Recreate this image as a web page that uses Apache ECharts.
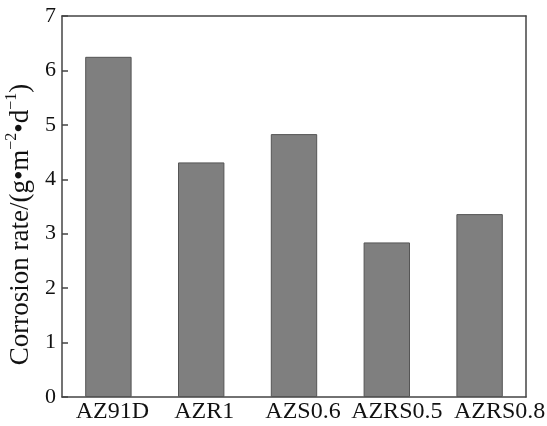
<!DOCTYPE html>
<html>
<head>
<meta charset="utf-8">
<script src="https://cdn.jsdelivr.net/npm/echarts@6/dist/echarts.min.js"></script>
<style>html,body{margin:0;padding:0;background:#fff}#c{width:547px;height:426px}</style>
</head>
<body>
<div id="c"></div>
<script>
var categories = ['AZ91D', 'AZR1', 'AZS0.6', 'AZRS0.5', 'AZRS0.8'];
var values = [6.25, 4.31, 4.83, 2.84, 3.36];
var yTicks = [0, 1, 2, 3, 4, 5, 6, 7];

var font = 'Liberation Serif';
var labelShift = [4, 3, 9, 10, 20];
var labelRich = {};
labelShift.forEach(function (d, i) {
  labelRich['l' + i] = { fontFamily: font, fontSize: 24, color: '#111', padding: [0, 0, 0, 2 * d] };
});

var chart = echarts.init(document.getElementById('c'));
chart.setOption({
  animation: false,
  backgroundColor: '#fff',
  grid: { left: 62, right: 21, top: 16, bottom: 29, containLabel: false, outerBoundsMode: 'none' },
  xAxis: [{
    type: 'category', data: categories, position: 'bottom',
    axisLine: { lineStyle: { color: '#444', width: 1.5 } },
    axisTick: { show: false },
    axisLabel: {
      interval: 0, margin: 3,
      formatter: function (v, i) { return '{l' + i + '|' + v + '}'; },
      rich: labelRich
    }
  }, {
    type: 'category', data: categories, position: 'top',
    axisLine: { show: true, onZero: false, lineStyle: { color: '#444', width: 1.5 } },
    axisTick: { show: false }, axisLabel: { show: false }
  }],
  yAxis: [{
    type: 'value', min: yTicks[0], max: yTicks[yTicks.length - 1], interval: 1,
    axisLine: { show: true, onZero: false, lineStyle: { color: '#444', width: 1.5 } },
    axisTick: { show: true, inside: true, length: 6, lineStyle: { color: '#444', width: 1.5 } },
    splitLine: { show: false },
    axisLabel: { fontFamily: font, fontSize: 22, color: '#111', margin: 6 },
    name: '{a|Corrosion rate/(g•m}{s|−2}{a|•d}{s|−1}{a|)}',
    nameLocation: 'middle', nameGap: 26, nameRotate: 90,
    nameTextStyle: {
      padding: [0, 36, 0, 0],
      rich: {
        a: { fontFamily: font, fontSize: 27, color: '#111', lineHeight: 30, verticalAlign: 'bottom' },
        s: { fontFamily: font, fontSize: 16, color: '#111', lineHeight: 30, verticalAlign: 'top' }
      }
    }
  }, {
    type: 'value', min: yTicks[0], max: yTicks[yTicks.length - 1], interval: 1, position: 'right',
    axisLine: { show: true, onZero: false, lineStyle: { color: '#444', width: 1.5 } },
    axisTick: { show: false }, axisLabel: { show: false }, splitLine: { show: false }
  }],
  series: [{
    type: 'bar', data: values, barWidth: '50%',
    itemStyle: { color: '#7f7f7f', borderColor: '#555', borderWidth: 1 }
  }]
});
</script>
</body>
</html>
